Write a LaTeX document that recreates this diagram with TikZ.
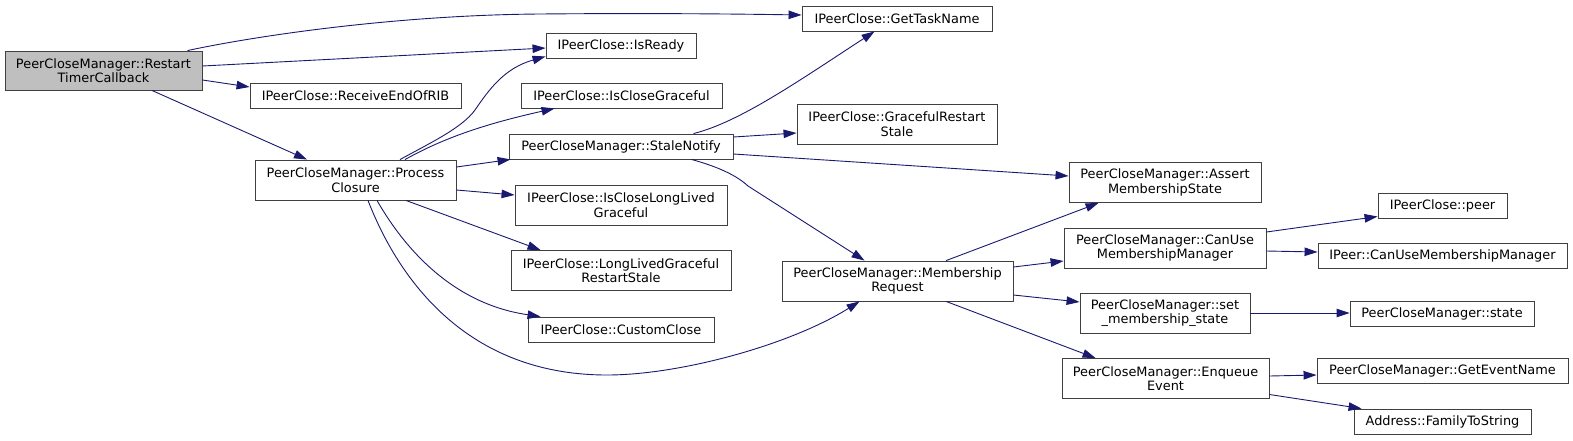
\documentclass[tikz,border=0pt]{standalone}
\usepackage{fontspec}
\setmainfont{DejaVu Sans}
\usetikzlibrary{arrows.meta,calc}
\definecolor{edgeblue}{HTML}{191970}
\definecolor{nodeborder}{HTML}{404040}
\definecolor{rootfill}{HTML}{BFBFBF}
\tikzset{
 fn/.style={draw=nodeborder, line width=0.9pt, fill=white, inner sep=0pt, align=center, font=\fontsize{12.9}{14.6}\selectfont},
 rootfn/.style={fn, fill=rootfill},
 call/.style={draw=edgeblue, line width=0.9pt, -{Triangle[length=13pt,width=8.5pt]}},
}
\begin{document}
\begin{tikzpicture}[x=1pt,y=-1pt]
\useasboundingbox (0,0) rectangle (1573,440);
% nodes
\node[rootfn, minimum width=197pt, minimum height=39pt] (root) at (103.5,70.5) {PeerCloseManager::Restart\\TimerCallback};
\node[fn, minimum width=211pt, minimum height=25pt] (recv) at (355.5,95.5) {IPeerClose::ReceiveEndOfRIB};
\node[fn, minimum width=201pt, minimum height=40pt] (proc) at (355.5,180) {PeerCloseManager::Process\\Closure};
\node[fn, minimum width=190pt, minimum height=25pt] (gettask) at (897,18.5) {IPeerClose::GetTaskName};
\node[fn, minimum width=150pt, minimum height=25pt] (isready) at (621,45.5) {IPeerClose::IsReady};
\node[fn, minimum width=201pt, minimum height=25pt] (iscg) at (621.5,95.5) {IPeerClose::IsCloseGraceful};
\node[fn, minimum width=224pt, minimum height=25pt] (stale) at (621,146.5) {PeerCloseManager::StaleNotify};
\node[fn, minimum width=200pt, minimum height=40pt] (grs) at (897,124) {IPeerClose::GracefulRestart\\Stale};
\node[fn, minimum width=212pt, minimum height=40pt] (icllg) at (621,205) {IPeerClose::IsCloseLongLived\\Graceful};
\node[fn, minimum width=220pt, minimum height=40pt] (llgrs) at (621,270.5) {IPeerClose::LongLivedGraceful\\RestartStale};
\node[fn, minimum width=186pt, minimum height=25pt] (custom) at (621,329.5) {IPeerClose::CustomClose};
\node[fn, minimum width=231pt, minimum height=40pt] (memreq) at (897.5,281) {PeerCloseManager::Membership\\Request};
\node[fn, minimum width=192pt, minimum height=40pt] (assert) at (1165,182.5) {PeerCloseManager::Assert\\MembershipState};
\node[fn, minimum width=202pt, minimum height=40pt] (canuse) at (1165,248) {PeerCloseManager::CanUse\\MembershipManager};
\node[fn, minimum width=170pt, minimum height=40pt] (setms) at (1165,313) {PeerCloseManager::set\\\_membership\_state};
\node[fn, minimum width=207pt, minimum height=40pt] (enq) at (1165.5,378.5) {PeerCloseManager::Enqueue\\Event};
\node[fn, minimum width=129pt, minimum height=25pt] (peer) at (1442.5,205.5) {IPeerClose::peer};
\node[fn, minimum width=249pt, minimum height=25pt] (ipeercan) at (1442.5,256) {IPeer::CanUseMembershipManager};
\node[fn, minimum width=184pt, minimum height=25pt] (state) at (1442,313.5) {PeerCloseManager::state};
\node[fn, minimum width=251pt, minimum height=25pt] (getevent) at (1442.5,370.5) {PeerCloseManager::GetEventName};
\node[fn, minimum width=177pt, minimum height=25pt] (family) at (1442.5,421.5) {Address::FamilyToString};
% edges
\draw[call] ($(root.north west)+(183,0)$) .. controls (260,35) and (400,15) .. (540,14) .. controls (650,13) and (740,14) .. ($(gettask.west)+(0,-3.5)$);
\draw[call] ($(root.east)+(0,-4.5)$) -- ($(isready.west)+(0,2.5)$);
\draw[call] ($(root.east)+(0,9.5)$) -- ($(recv.west)+(0,-8.5)$);
\draw[call] ($(root.south)+(48.5,0)$) -- ($(proc.north)+(-48.5,0)$);
\draw[call] ($(proc.north)+(44.5,0)$) .. controls (430,143) and (462,128) .. (475,110) .. controls (490,88) and (505,68) .. ($(isready.south west)+(0,-2)$);
\draw[call] ($(proc.north)+(49.5,0)$) .. controls (440,140) and (480,125) .. ($(iscg.south west)+(34,0)$);
\draw[call] ($(proc.east)+(0,-13)$) -- ($(stale.south west)+(2,0)$);
\draw[call] ($(proc.east)+(0,10)$) -- ($(icllg.west)+(0,-10)$);
\draw[call] ($(proc.south)+(50.5,0)$) -- ($(llgrs.north west)+(30,0)$);
\draw[call] ($(proc.south)+(21.5,0)$) .. controls (410,258) and (460,305) .. ($(custom.north west)+(13,0)$);
\draw[call] ($(proc.south)+(12.5,0)$) .. controls (395,270) and (460,375) .. (607,375) .. controls (680,375) and (790,345) .. ($(memreq.south west)+(78,0)$);
\draw[call] ($(stale.north west)+(185,0)$) .. controls (740,122) and (800,80) .. ($(gettask.south west)+(73,0)$);
\draw[call] ($(stale.east)+(0,-9.5)$) -- ($(grs.west)+(0,9)$);
\draw[call] ($(stale.east)+(0,7.5)$) -- ($(assert.west)+(0,-6.5)$);
\draw[call] ($(stale.south west)+(183,0)$) .. controls (715,166) and (735,174) .. (748,186) -- ($(memreq.north west)+(83,0)$);
\draw[call] ($(memreq.north west)+(164.6,0)$) -- ($(assert.south west)+(30,0)$);
\draw[call] ($(memreq.east)+(0,-14)$) -- ($(canuse.west)+(0,13)$);
\draw[call] ($(memreq.east)+(0,14)$) -- ($(setms.west)+(0,-11)$);
\draw[call] ($(memreq.south west)+(164.6,0)$) -- ($(enq.north west)+(34,0)$);
\draw[call] ($(canuse.east)+(0,-16)$) -- ($(peer.west)+(0,11)$);
\draw[call] ($(canuse.east)+(0,3)$) -- ($(ipeercan.west)+(0,-4)$);
\draw[call] (setms.east) -- (setms.east -| state.west);
\draw[call] ($(enq.east)+(0,-2.5)$) -- ($(getevent.west)+(0,4.5)$);
\draw[call] ($(enq.east)+(0,16)$) -- ($(family.north west)+(8,0)$);
\end{tikzpicture}
\end{document}
